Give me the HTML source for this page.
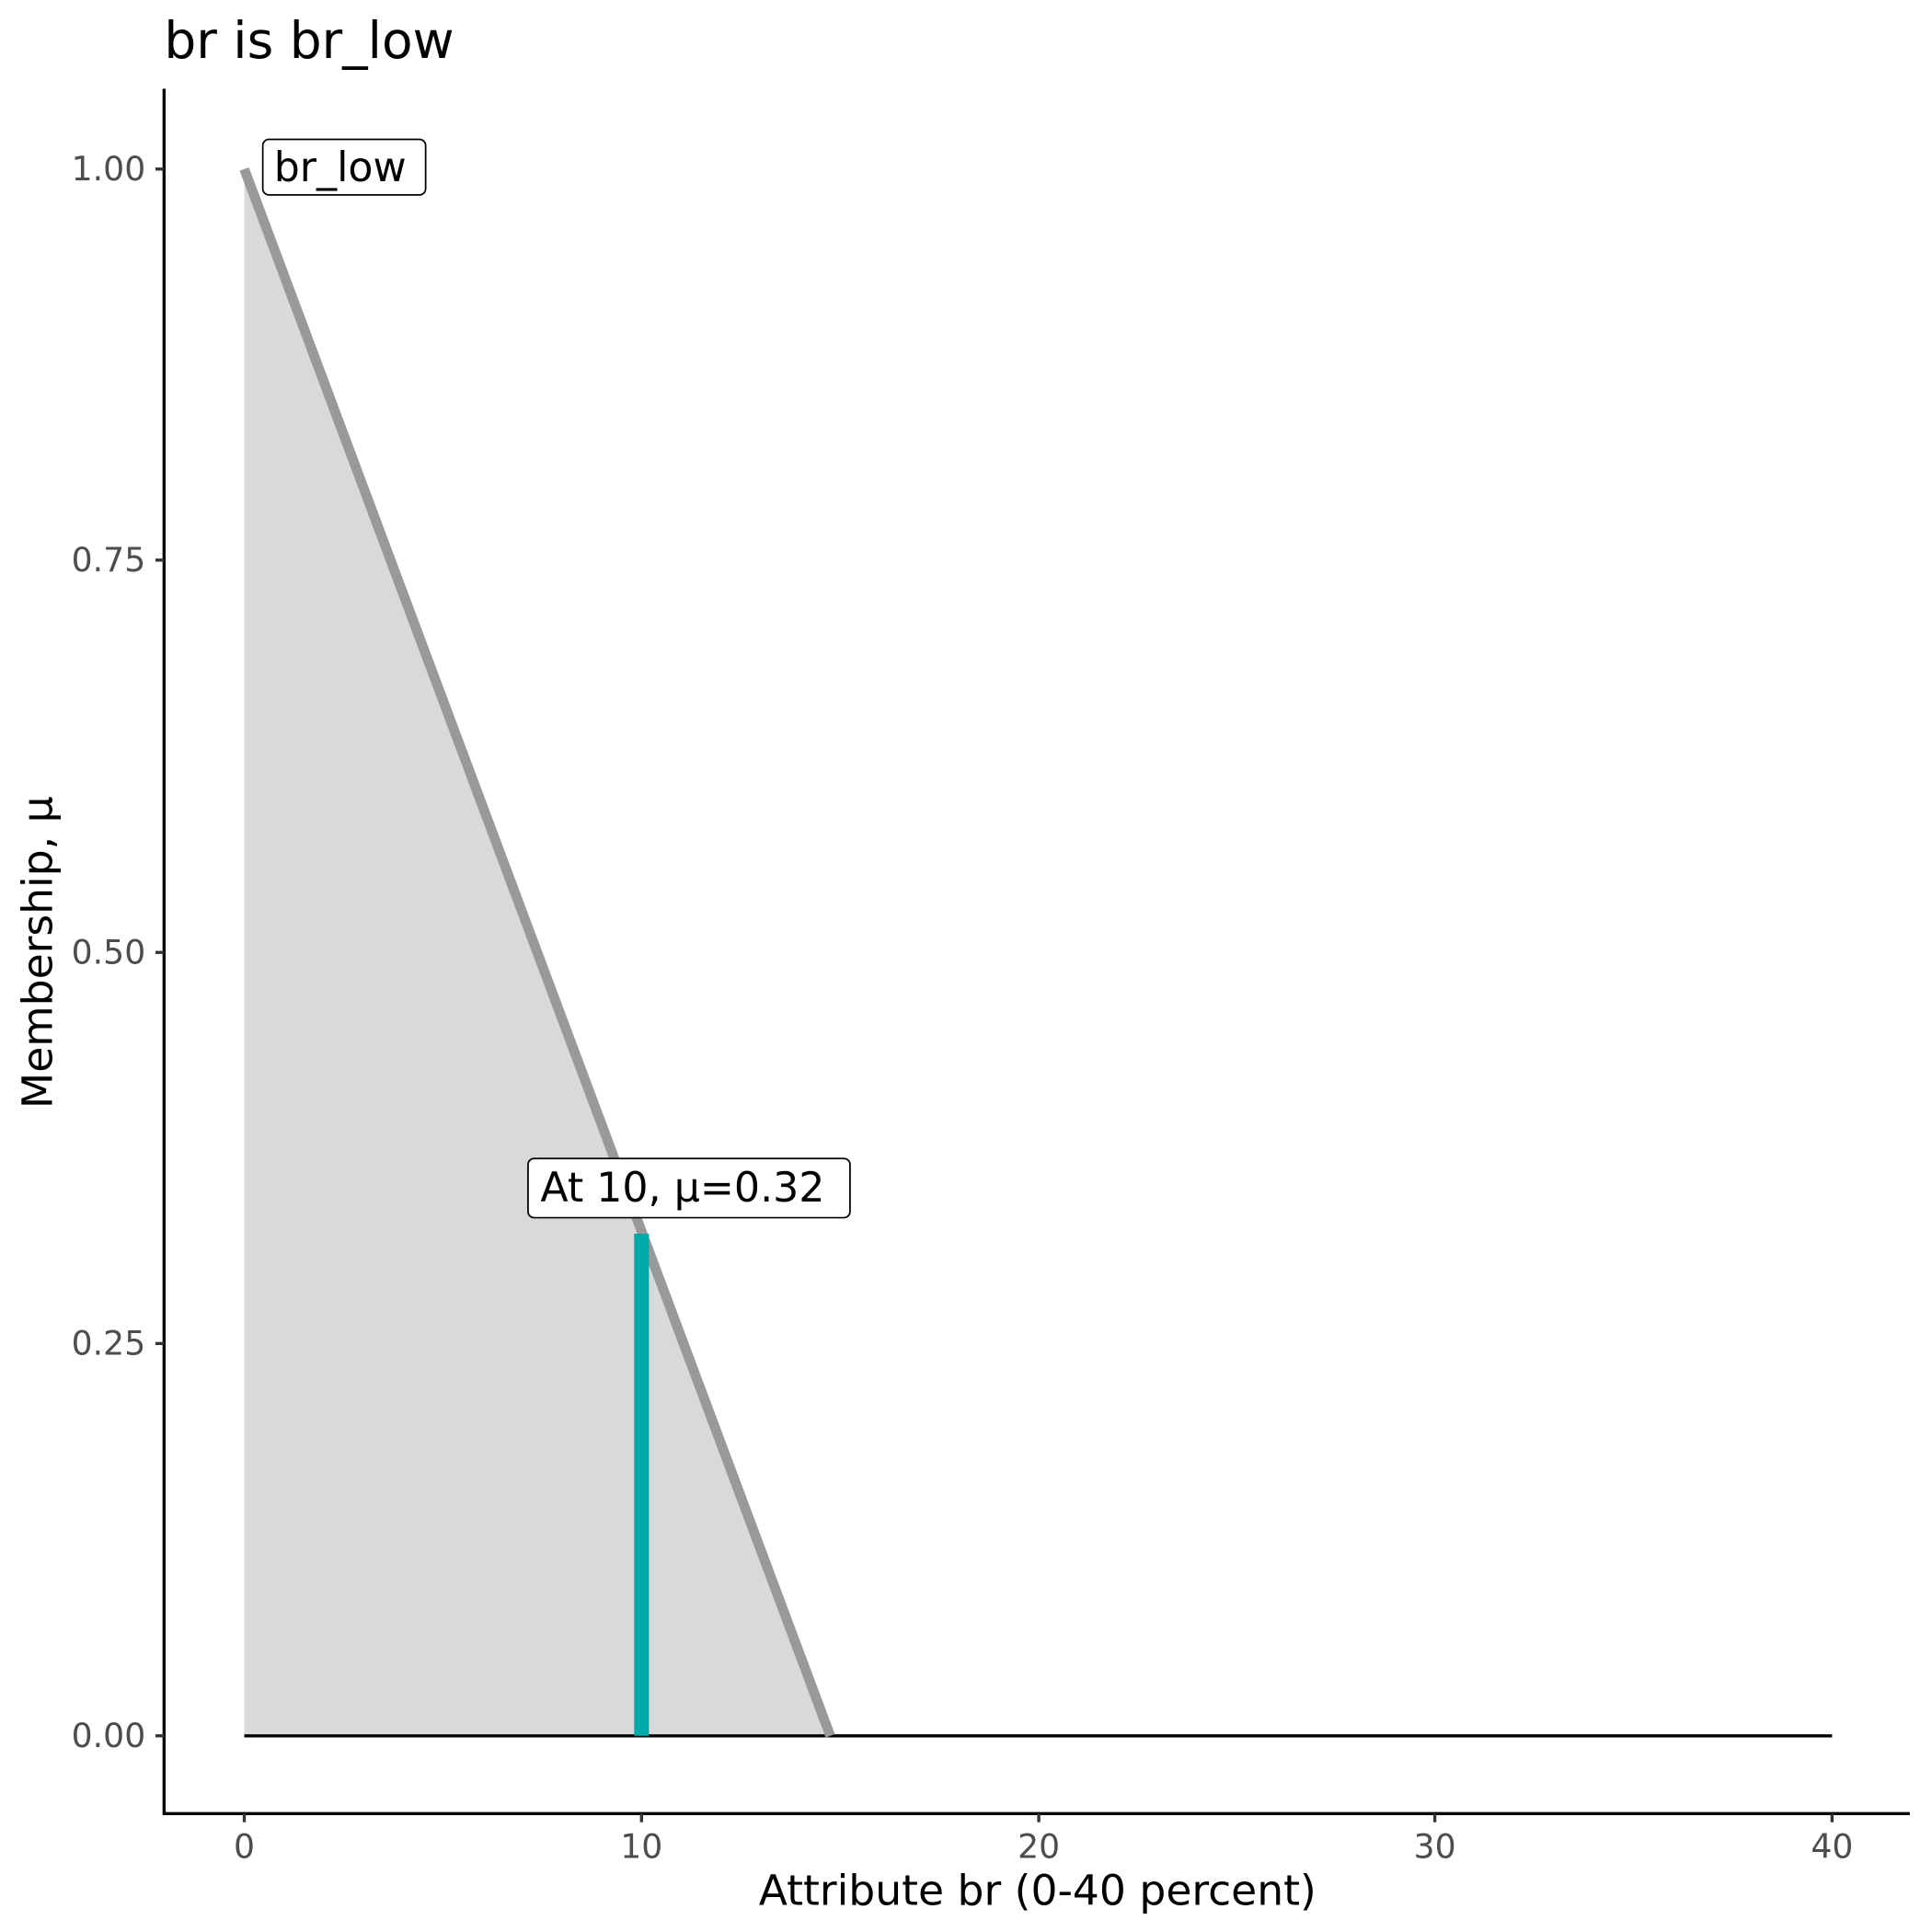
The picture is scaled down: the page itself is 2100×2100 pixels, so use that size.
<!DOCTYPE html>
<html><head><style>html,body{margin:0;padding:0;background:#fff}svg{display:block}</style></head>
<body>
<svg width="2100" height="2100" viewBox="0 0 1566 1566" xmlns="http://www.w3.org/2000/svg" font-family="DejaVu Sans, Liberation Sans, sans-serif">
<rect width="1566" height="1566" fill="#fff"/>
<text x="133" y="47" font-size="41" fill="#000">br is br_low</text>
<polygon points="198,137 673,1407 198,1407" fill="#d9d9d9"/>
<line x1="198" y1="1407" x2="1485" y2="1407" stroke="#000" stroke-width="2.5"/>
<line x1="198" y1="137" x2="673" y2="1407" stroke="#999" stroke-width="8"/>
<line x1="520" y1="1000" x2="520" y2="1407" stroke="#00a9a9" stroke-width="12"/>
<rect x="213" y="113" width="132" height="45" rx="5" fill="#fff" stroke="#000" stroke-width="1.3"/>
<text x="222" y="147" font-size="33" fill="#000">br_low</text>
<rect x="428" y="939" width="261" height="48" rx="5" fill="#fff" stroke="#000" stroke-width="1.3"/>
<text x="438" y="974" font-size="33" fill="#000">At 10, μ=0.32</text>
<line x1="133" y1="72" x2="133" y2="1471" stroke="#000" stroke-width="2.5"/>
<line x1="132" y1="1470" x2="1548" y2="1470" stroke="#000" stroke-width="2.5"/>
<g stroke="#333" stroke-width="2.5">
<line x1="126" y1="137" x2="133" y2="137"/><line x1="126" y1="454" x2="133" y2="454"/>
<line x1="126" y1="772" x2="133" y2="772"/><line x1="126" y1="1089" x2="133" y2="1089"/>
<line x1="126" y1="1407" x2="133" y2="1407"/>
<line x1="198" y1="1470" x2="198" y2="1477"/><line x1="520" y1="1470" x2="520" y2="1477"/>
<line x1="842" y1="1470" x2="842" y2="1477"/><line x1="1163" y1="1470" x2="1163" y2="1477"/>
<line x1="1485" y1="1470" x2="1485" y2="1477"/>
</g>
<g font-size="27" fill="#4d4d4d" text-anchor="end">
<text x="118" y="146">1.00</text><text x="118" y="463">0.75</text><text x="118" y="781">0.50</text>
<text x="118" y="1098">0.25</text><text x="118" y="1416">0.00</text>
</g>
<g font-size="27" fill="#4d4d4d" text-anchor="middle">
<text x="198" y="1506">0</text><text x="520" y="1506">10</text><text x="842" y="1506">20</text>
<text x="1163" y="1506">30</text><text x="1485" y="1506">40</text>
</g>
<text x="841" y="1544" font-size="34" text-anchor="middle" fill="#000">Attribute br (0-40 percent)</text>
<text transform="translate(42,772) rotate(-90)" font-size="34" text-anchor="middle" fill="#000">Membership, μ</text>
</svg>
</body></html>
